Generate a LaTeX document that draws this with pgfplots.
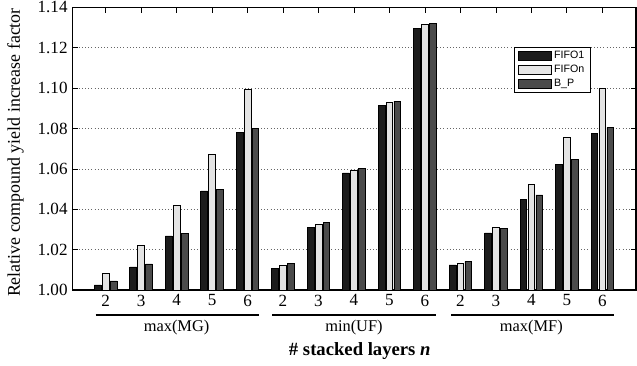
\documentclass[border=0pt]{standalone}
\usepackage{fontspec}
\setmainfont{Liberation Serif}
\newfontfamily\legfont{Liberation Sans}
\usepackage{pgfplots}
\pgfplotsset{compat=1.18}

\definecolor{cA}{HTML}{1C1C1C}
\definecolor{cB}{HTML}{E4E4E4}
\definecolor{cC}{HTML}{4B4B4B}

\begin{document}
\begin{tikzpicture}
\begin{axis}[
  scale only axis, width=422.8pt, height=212pt,
  xmin=0.06, xmax=15.95, ymin=1.0, ymax=1.14,
  xtick={1,2,3,4,5,6,7,8,9,10,11,12,13,14,15},
  xticklabels={2,3,4,5,6,2,3,4,5,6,2,3,4,5,6},
  ytick={1.00,1.02,1.04,1.06,1.08,1.10,1.12,1.14},
  yticklabel style={/pgf/number format/.cd, fixed, fixed zerofill, precision=2},
  /pgf/number format/assume math mode=true,
  ymajorgrids, grid style={dotted, black!60, line width=0.5pt},
  tick align=inside, major tick length=4pt,
  tick style={black, line width=0.5pt},
  axis line style={line width=0.9pt},
  ticklabel style={font=\fontsize{12.8pt}{14pt}\selectfont},
  ylabel={Relative compound yield increase factor},
  ylabel style={font=\fontsize{13.4pt}{15pt}\selectfont, at={(axis description cs:-0.1008,0.486)}, anchor=center},
  xlabel={\textbf{\# stacked layers \textit{n}}},
  xlabel style={font=\fontsize{14pt}{16pt}\selectfont, at={(axis description cs:0.51,0)}, yshift=-45.5pt, anchor=center},
  clip mode=individual,
  legend cell align=left,
  legend style={at={(axis description cs:0.7836,0.8596)}, anchor=north west,
    font=\legfont\fontsize{8pt}{9pt}\selectfont, draw=black, line width=0.6pt,
    inner xsep=2.5pt, inner ysep=1pt, row sep=-0.8pt,
    /tikz/every even column/.append style={column sep=0pt}},
  legend image code/.code={\draw[#1] (0pt,-3.3pt) rectangle (24.75pt,3.3pt);},
]
\addplot[ybar, bar width=0.19, bar shift=-0.223, fill=cA, draw=black, line width=0.5pt] coordinates {
 (1,1.0025) (2,1.0114) (3,1.0268) (4,1.0491) (5,1.0779)
 (6,1.0108) (7,1.0308) (8,1.0580) (9,1.0914) (10,1.1295)
 (11,1.0124) (12,1.0283) (13,1.0450) (14,1.0623) (15,1.0775)};
\addplot[ybar, bar width=0.19, bar shift=0, fill=cB, draw=black, line width=0.5pt] coordinates {
 (1,1.0083) (2,1.0222) (3,1.0418) (4,1.0670) (5,1.0992)
 (6,1.0122) (7,1.0326) (8,1.0595) (9,1.0929) (10,1.1314)
 (11,1.0132) (12,1.0309) (13,1.0521) (14,1.0755) (15,1.0998)};
\addplot[ybar, bar width=0.19, bar shift=0.223, fill=cC, draw=black, line width=0.5pt] coordinates {
 (1,1.0045) (2,1.0129) (3,1.0281) (4,1.0498) (5,1.0802)
 (6,1.0132) (7,1.0336) (8,1.0604) (9,1.0936) (10,1.1321)
 (11,1.0142) (12,1.0303) (13,1.0471) (14,1.0645) (15,1.0805)};
\legend{FIFO1, FIFOn, B\_P}
\draw[line width=1.2pt] ([yshift=-18.75pt]axis cs:0.72,1) -- ([yshift=-18.75pt]axis cs:5.32,1);
\draw[line width=1.2pt] ([yshift=-18.75pt]axis cs:5.70,1) -- ([yshift=-18.75pt]axis cs:10.31,1);
\draw[line width=1.2pt] ([yshift=-18.75pt]axis cs:10.74,1) -- ([yshift=-18.75pt]axis cs:15.33,1);
\node[font=\fontsize{12.3pt}{14pt}\selectfont] at ([yshift=-28.3pt]axis cs:3,1) {max(MG)};
\node[font=\fontsize{12.3pt}{14pt}\selectfont] at ([yshift=-28.3pt]axis cs:8,1) {min(UF)};
\node[font=\fontsize{12.3pt}{14pt}\selectfont] at ([yshift=-28.3pt]axis cs:13,1) {max(MF)};
\end{axis}
\path (current axis.south west) ++(-54.2pt,-57pt) coordinate (BL);
\path (current axis.north east) ++(0.75pt,5.5pt) coordinate (TR);
\pgfresetboundingbox
\useasboundingbox (BL) rectangle (TR);
\end{tikzpicture}
\end{document}
